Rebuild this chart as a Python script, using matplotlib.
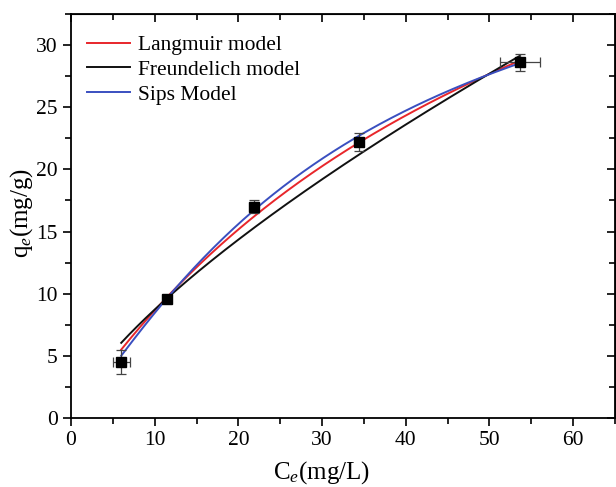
import numpy as np
import matplotlib
matplotlib.use("Agg")
import matplotlib.pyplot as plt
from matplotlib.ticker import MultipleLocator

plt.rcParams['font.family'] = ['Liberation Serif', 'DejaVu Serif']
plt.rcParams['mathtext.fontset'] = 'custom'
plt.rcParams['mathtext.rm'] = 'Liberation Serif'
plt.rcParams['mathtext.it'] = 'Liberation Serif:italic'

# experimental data
ce = [6.0, 11.5, 21.9, 34.4, 53.6]
qe = [4.5, 9.6, 17.0, 22.2, 28.6]
ce_err = [1.0, 0.3, 0.4, 0.5, 2.4]
qe_err = [1.0, 0.3, 0.5, 0.75, 0.7]

# model parameters
lang_qm, lang_k = 61.5, 0.01637
freu_kf, freu_inv_n = 1.67, 0.718
sips_qm, sips_k, sips_n = 45.0, 0.0295, 1.2
c_range = [6.0, 53.6]

labels = ['Langmuir model', 'Freundelich model', 'Sips Model']
colors = ['#e8262b', '#111111', '#3a4fc0']

fig = plt.figure(figsize=(6.16, 4.87), dpi=100)
ax = fig.add_axes([71/616, 1-418/487, 544/616, 404/487])

c = np.linspace(c_range[0], c_range[1], 200)
q_l = lang_qm * lang_k * c / (1 + lang_k * c)
q_f = freu_kf * c ** freu_inv_n
x = (sips_k * c) ** sips_n
q_s = sips_qm * x / (1 + x)

ax.plot(c, q_l, color=colors[0], lw=1.4, label=labels[0], zorder=3)
ax.plot(c, q_f, color=colors[1], lw=1.4, label=labels[1], zorder=3)
ax.plot(c, q_s, color=colors[2], lw=1.4, label=labels[2], zorder=3)

ax.errorbar(ce, qe, xerr=ce_err, yerr=qe_err, fmt='s', color='black',
            ms=7, ecolor='#444444', elinewidth=0.9, capsize=3.5, capthick=0.9,
            zorder=4)

ax.set_xlim(0, 65)
ax.set_ylim(0, 32.5)
ax.xaxis.set_major_locator(MultipleLocator(10))
ax.xaxis.set_minor_locator(MultipleLocator(5))
ax.yaxis.set_major_locator(MultipleLocator(5))
ax.yaxis.set_minor_locator(MultipleLocator(2.5))
ax.tick_params(which='both', direction='out', labelsize=15.5, width=1.2)
ax.tick_params(which='major', length=6)
ax.tick_params(which='minor', length=4)
for s in ax.spines.values():
    s.set_linewidth(1.3)

top = ax.secondary_xaxis('top')
top.xaxis.set_major_locator(MultipleLocator(10))
top.xaxis.set_minor_locator(MultipleLocator(5))
top.tick_params(which='both', direction='in', labeltop=False, width=1.2)
top.tick_params(which='major', length=6)
top.tick_params(which='minor', length=4)
right = ax.secondary_yaxis('right')
right.yaxis.set_major_locator(MultipleLocator(5))
right.yaxis.set_minor_locator(MultipleLocator(2.5))
right.tick_params(which='both', direction='in', labelright=False, width=1.2)
right.tick_params(which='major', length=6)
right.tick_params(which='minor', length=4)

ax.set_xlabel(r'C$_\mathit{e}$(mg/L)', fontsize=18)
ax.set_ylabel(r'q$_\mathit{e}$(mg/g)', fontsize=18)
ax.xaxis.set_label_coords(0.461, -0.103)
ax.yaxis.set_label_coords(-0.066, 0.507)

leg = ax.legend(loc='upper left', frameon=False, fontsize=15.5, handlelength=2.0,
                handletextpad=0.35, labelspacing=0.22,
                bbox_to_anchor=(-0.006, 0.996))

fig.savefig('out.png', dpi=100)
